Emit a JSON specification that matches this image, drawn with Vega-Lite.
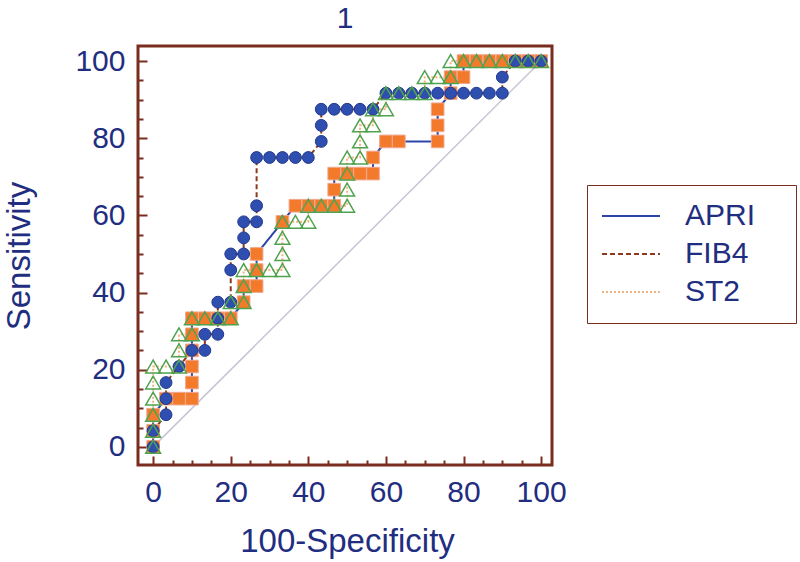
{
  "$schema": "https://vega.github.io/schema/vega-lite/v6.json",
  "width": 414,
  "height": 419,
  "autosize": {"type": "none"},
  "padding": {"left": 138, "top": 46, "right": 248, "bottom": 97},
  "background": "white",
  "config": {
    "font": "Liberation Sans",
    "view": {"stroke": "#7a2c1e", "strokeWidth": 3},
    "legend": {
      "orient": "none",
      "legendX": 449,
      "legendY": 139,
      "strokeColor": "#7a2c1e",
      "fillColor": "white",
      "padding": 16,
      "symbolType": "M-5.8,0H5.8",
      "symbolSize": 100,
      "symbolStrokeWidth": 2,
      "symbolOffset": 13,
      "labelOffset": 39,
      "labelFontSize": 30,
      "labelColor": "#1f2e80",
      "labelFont": "Liberation Sans",
      "rowPadding": 8,
      "titleOrient": "right",
      "titlePadding": 22,
      "titleFontSize": 10,
      "titleColor": "white"
    }
  },
  "title": {"text": "1", "fontSize": 30, "fontWeight": "normal", "color": "#1f2e80", "font": "Liberation Sans", "anchor": "middle", "frame": "group", "offset": -12, "baseline": "alphabetic"},
  "datasets": {
    "diag": [{"x": 0, "y": 0}, {"x": 100, "y": 100}],
    "roc": [
      {"s":"APRI","i":0,"x":0,"y":0},{"s":"APRI","i":1,"x":0,"y":4.17},{"s":"APRI","i":2,"x":0,"y":8.33},{"s":"APRI","i":3,"x":3.33,"y":12.5},{"s":"APRI","i":4,"x":6.67,"y":12.5},{"s":"APRI","i":5,"x":10,"y":12.5},{"s":"APRI","i":6,"x":10,"y":16.67},{"s":"APRI","i":7,"x":10,"y":20.83},{"s":"APRI","i":8,"x":10,"y":25},{"s":"APRI","i":9,"x":10,"y":29.17},{"s":"APRI","i":10,"x":10,"y":33.33},{"s":"APRI","i":11,"x":13.33,"y":33.33},{"s":"APRI","i":12,"x":16.67,"y":33.33},{"s":"APRI","i":13,"x":20,"y":33.33},{"s":"APRI","i":14,"x":23.33,"y":37.5},{"s":"APRI","i":15,"x":23.33,"y":41.67},{"s":"APRI","i":16,"x":26.67,"y":41.67},{"s":"APRI","i":17,"x":26.67,"y":45.83},{"s":"APRI","i":18,"x":26.67,"y":50},{"s":"APRI","i":19,"x":33.33,"y":58.33},{"s":"APRI","i":20,"x":36.67,"y":62.5},{"s":"APRI","i":21,"x":40,"y":62.5},{"s":"APRI","i":22,"x":43.33,"y":62.5},{"s":"APRI","i":23,"x":46.67,"y":62.5},{"s":"APRI","i":24,"x":46.67,"y":66.67},{"s":"APRI","i":25,"x":46.67,"y":70.83},{"s":"APRI","i":26,"x":50,"y":70.83},{"s":"APRI","i":27,"x":53.33,"y":70.83},{"s":"APRI","i":28,"x":56.67,"y":70.83},{"s":"APRI","i":29,"x":56.67,"y":75},{"s":"APRI","i":30,"x":60,"y":79.17},{"s":"APRI","i":31,"x":63.33,"y":79.17},{"s":"APRI","i":32,"x":73.33,"y":79.17},{"s":"APRI","i":33,"x":73.33,"y":83.33},{"s":"APRI","i":34,"x":73.33,"y":87.5},{"s":"APRI","i":35,"x":76.67,"y":91.67},{"s":"APRI","i":36,"x":76.67,"y":95.83},{"s":"APRI","i":37,"x":80,"y":95.83},{"s":"APRI","i":38,"x":80,"y":100},{"s":"APRI","i":39,"x":83.33,"y":100},{"s":"APRI","i":40,"x":86.67,"y":100},{"s":"APRI","i":41,"x":90,"y":100},{"s":"APRI","i":42,"x":93.33,"y":100},{"s":"APRI","i":43,"x":96.67,"y":100},{"s":"APRI","i":44,"x":100,"y":100},
      {"s":"FIB4","i":0,"x":0,"y":0},{"s":"FIB4","i":1,"x":0,"y":4.17},{"s":"FIB4","i":2,"x":3.33,"y":8.33},{"s":"FIB4","i":3,"x":3.33,"y":12.5},{"s":"FIB4","i":4,"x":3.33,"y":16.67},{"s":"FIB4","i":5,"x":6.67,"y":20.83},{"s":"FIB4","i":6,"x":10,"y":25},{"s":"FIB4","i":7,"x":13.33,"y":25},{"s":"FIB4","i":8,"x":13.33,"y":29.17},{"s":"FIB4","i":9,"x":16.67,"y":29.17},{"s":"FIB4","i":10,"x":16.67,"y":33.33},{"s":"FIB4","i":11,"x":16.67,"y":37.5},{"s":"FIB4","i":12,"x":20,"y":37.5},{"s":"FIB4","i":13,"x":20,"y":45.83},{"s":"FIB4","i":14,"x":20,"y":50},{"s":"FIB4","i":15,"x":23.33,"y":50},{"s":"FIB4","i":16,"x":23.33,"y":54.17},{"s":"FIB4","i":17,"x":23.33,"y":58.33},{"s":"FIB4","i":18,"x":26.67,"y":58.33},{"s":"FIB4","i":19,"x":26.67,"y":62.5},{"s":"FIB4","i":20,"x":26.67,"y":75},{"s":"FIB4","i":21,"x":30,"y":75},{"s":"FIB4","i":22,"x":33.33,"y":75},{"s":"FIB4","i":23,"x":36.67,"y":75},{"s":"FIB4","i":24,"x":40,"y":75},{"s":"FIB4","i":25,"x":43.33,"y":79.17},{"s":"FIB4","i":26,"x":43.33,"y":83.33},{"s":"FIB4","i":27,"x":43.33,"y":87.5},{"s":"FIB4","i":28,"x":46.67,"y":87.5},{"s":"FIB4","i":29,"x":50,"y":87.5},{"s":"FIB4","i":30,"x":53.33,"y":87.5},{"s":"FIB4","i":31,"x":56.67,"y":87.5},{"s":"FIB4","i":32,"x":60,"y":91.67},{"s":"FIB4","i":33,"x":63.33,"y":91.67},{"s":"FIB4","i":34,"x":66.67,"y":91.67},{"s":"FIB4","i":35,"x":70,"y":91.67},{"s":"FIB4","i":36,"x":73.33,"y":91.67},{"s":"FIB4","i":37,"x":76.67,"y":91.67},{"s":"FIB4","i":38,"x":80,"y":91.67},{"s":"FIB4","i":39,"x":83.33,"y":91.67},{"s":"FIB4","i":40,"x":86.67,"y":91.67},{"s":"FIB4","i":41,"x":90,"y":91.67},{"s":"FIB4","i":42,"x":90,"y":95.83},{"s":"FIB4","i":43,"x":93.33,"y":100},{"s":"FIB4","i":44,"x":96.67,"y":100},{"s":"FIB4","i":45,"x":100,"y":100},
      {"s":"ST2","i":0,"x":0,"y":0},{"s":"ST2","i":1,"x":0,"y":4.17},{"s":"ST2","i":2,"x":0,"y":8.33},{"s":"ST2","i":3,"x":0,"y":12.5},{"s":"ST2","i":4,"x":0,"y":16.67},{"s":"ST2","i":5,"x":0,"y":20.83},{"s":"ST2","i":6,"x":3.33,"y":20.83},{"s":"ST2","i":7,"x":6.67,"y":20.83},{"s":"ST2","i":8,"x":6.67,"y":25},{"s":"ST2","i":9,"x":6.67,"y":29.17},{"s":"ST2","i":10,"x":10,"y":29.17},{"s":"ST2","i":11,"x":10,"y":33.33},{"s":"ST2","i":12,"x":13.33,"y":33.33},{"s":"ST2","i":13,"x":16.67,"y":33.33},{"s":"ST2","i":14,"x":20,"y":33.33},{"s":"ST2","i":15,"x":20,"y":37.5},{"s":"ST2","i":16,"x":23.33,"y":37.5},{"s":"ST2","i":17,"x":23.33,"y":41.67},{"s":"ST2","i":18,"x":23.33,"y":45.83},{"s":"ST2","i":19,"x":26.67,"y":45.83},{"s":"ST2","i":20,"x":30,"y":45.83},{"s":"ST2","i":21,"x":33.33,"y":45.83},{"s":"ST2","i":22,"x":33.33,"y":50},{"s":"ST2","i":23,"x":33.33,"y":54.17},{"s":"ST2","i":24,"x":33.33,"y":58.33},{"s":"ST2","i":25,"x":36.67,"y":58.33},{"s":"ST2","i":26,"x":40,"y":58.33},{"s":"ST2","i":27,"x":40,"y":62.5},{"s":"ST2","i":28,"x":43.33,"y":62.5},{"s":"ST2","i":29,"x":46.67,"y":62.5},{"s":"ST2","i":30,"x":50,"y":62.5},{"s":"ST2","i":31,"x":50,"y":66.67},{"s":"ST2","i":32,"x":50,"y":70.83},{"s":"ST2","i":33,"x":50,"y":75},{"s":"ST2","i":34,"x":53.33,"y":75},{"s":"ST2","i":35,"x":53.33,"y":79.17},{"s":"ST2","i":36,"x":53.33,"y":83.33},{"s":"ST2","i":37,"x":56.67,"y":83.33},{"s":"ST2","i":38,"x":56.67,"y":87.5},{"s":"ST2","i":39,"x":60,"y":87.5},{"s":"ST2","i":40,"x":60,"y":91.67},{"s":"ST2","i":41,"x":63.33,"y":91.67},{"s":"ST2","i":42,"x":66.67,"y":91.67},{"s":"ST2","i":43,"x":70,"y":91.67},{"s":"ST2","i":44,"x":70,"y":95.83},{"s":"ST2","i":45,"x":73.33,"y":95.83},{"s":"ST2","i":46,"x":76.67,"y":95.83},{"s":"ST2","i":47,"x":76.67,"y":100},{"s":"ST2","i":48,"x":80,"y":100},{"s":"ST2","i":49,"x":83.33,"y":100},{"s":"ST2","i":50,"x":86.67,"y":100},{"s":"ST2","i":51,"x":90,"y":100},{"s":"ST2","i":52,"x":93.33,"y":100},{"s":"ST2","i":53,"x":96.67,"y":100},{"s":"ST2","i":54,"x":100,"y":100}
    ]
  },
  "encoding": {
    "x": {
      "field": "x", "type": "quantitative",
      "scale": {"domain": [-3.9, 102.8], "nice": false, "zero": false},
      "axis": {
        "values": [0,5,10,15,20,25,30,35,40,45,50,55,60,65,70,75,80,85,90,95,100],
        "labelExpr": "datum.value % 20 === 0 ? datum.label : ''",
        "tickSize": {"condition": {"test": "datum.value % 20 === 0", "value": -9}, "value": -5},
        "tickColor": "#7a2c1e", "tickWidth": 2, "domain": false, "grid": false,
        "labelFontSize": 30, "labelColor": "#1f2e80", "labelFont": "Liberation Sans", "labelPadding": 21,
        "labelFlush": false, "labelOverlap": false,
        "title": "100-Specificity", "titleFontSize": 33, "titleFontWeight": "normal", "titleColor": "#1f2e80", "titleFont": "Liberation Sans",
        "titleX": 209, "titleY": 86, "titleBaseline": "alphabetic", "titleAlign": "center", "titleAnchor": null
      }
    },
    "y": {
      "field": "y", "type": "quantitative",
      "scale": {"domain": [-4.7, 103.9], "nice": false, "zero": false},
      "axis": {
        "values": [0,5,10,15,20,25,30,35,40,45,50,55,60,65,70,75,80,85,90,95,100],
        "labelExpr": "datum.value % 20 === 0 ? datum.label : ''",
        "tickSize": {"condition": {"test": "datum.value % 20 === 0", "value": -9}, "value": -5},
        "tickColor": "#7a2c1e", "tickWidth": 2, "domain": false, "grid": false,
        "labelFontSize": 30, "labelColor": "#1f2e80", "labelFont": "Liberation Sans", "labelPadding": 22,
        "labelFlush": false, "labelOverlap": false,
        "title": "Sensitivity", "titleFontSize": 33, "titleFontWeight": "normal", "titleColor": "#1f2e80", "titleFont": "Liberation Sans",
        "titleAngle": -90, "titleX": -109, "titleY": 209.5, "titleBaseline": "alphabetic", "titleAlign": "center", "titleAnchor": null
      }
    }
  },
  "layer": [
    {
      "data": {"name": "diag"},
      "mark": {"type": "line", "color": "#c9c3d6", "strokeWidth": 1.5}
    },
    {
      "data": {"name": "roc"},
      "mark": {"type": "line", "strokeWidth": 2},
      "encoding": {
        "order": {"field": "i", "type": "quantitative"},
        "stroke": {"field": "s", "type": "nominal", "scale": {"domain": ["APRI", "FIB4", "ST2"], "range": ["#2b45a8", "#8c3a1c", "#f2b47c"]}, "legend": {"title": "."}},
        "strokeDash": {"field": "s", "type": "nominal", "scale": {"domain": ["APRI", "FIB4", "ST2"], "range": [[1, 0], [5, 3], [2, 2]]}, "legend": {"title": "."}}
      }
    },
    {
      "data": {"name": "roc"},
      "transform": [{"filter": "datum.s === 'APRI'"}],
      "mark": {"type": "point", "shape": "square", "filled": true, "fill": "#f27a2a", "stroke": "#f0a890", "strokeWidth": 1, "size": 160, "opacity": 1}
    },
    {
      "data": {"name": "roc"},
      "transform": [{"filter": "datum.s === 'FIB4'"}],
      "mark": {"type": "point", "shape": "circle", "filled": true, "fill": "#2f4fb0", "stroke": "#22388a", "strokeWidth": 1, "size": 140, "opacity": 1}
    },
    {
      "data": {"name": "roc"},
      "transform": [{"filter": "datum.s === 'ST2'"}],
      "mark": {"type": "point", "shape": "triangle-up", "filled": false, "stroke": "#4fa34f", "strokeWidth": 1.5, "size": 220, "opacity": 1}
    }
  ]
}
